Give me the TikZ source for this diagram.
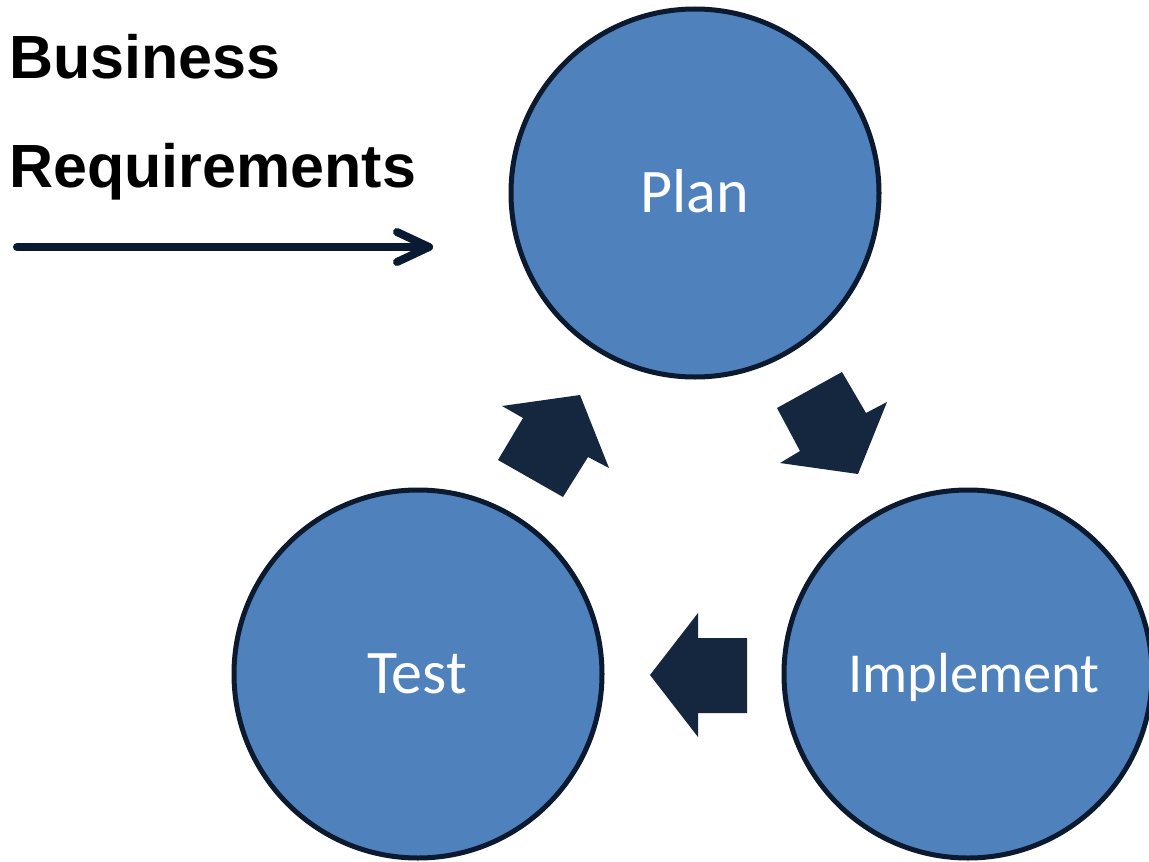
\documentclass[tikz,border=0pt]{standalone}
\usepackage{fontspec}
\setmainfont{Carlito}
\newfontfamily\headfont{Liberation Sans}
\definecolor{cyclefill}{HTML}{4F81BD}
\definecolor{cycleedge}{HTML}{0C1A30}
\definecolor{blockarrow}{HTML}{14273F}
\definecolor{inputline}{HTML}{0A1A33}
\begin{document}
\begin{tikzpicture}[x=1pt,y=-1pt,
  phase/.style={circle, draw=cycleedge, fill=cyclefill, line width=5pt,
    inner sep=0pt, minimum size=368pt},
  phaselabel/.style={text=white, inner sep=0pt, anchor=base,
    font=\fontsize{62}{62}\selectfont},
  headline/.style={inner sep=0pt, anchor=base west,
    font=\headfont\bfseries\fontsize{61}{61}\selectfont},
  turn/.style={fill=blockarrow, draw=none},
  feed/.style={draw=inputline, line width=8pt, line cap=round, line join=round}]
\useasboundingbox (0,0) rectangle (1149,862);
\clip (0,0) rectangle (1149,862);
\fill[white] (0,0) rectangle (1149,862);

% the three phases of the cycle
\node[phase] (plan) at (695,193) {};
\node[phase] (test) at (418,674) {};
\node[phase] (impl) at (968,674) {};
\node[phaselabel] (plantext) at (695,212) {Plan};
\node[phaselabel] (testtext) at (417,693) {Test};
\node[phaselabel, font=\fontsize{56.5}{56.5}\selectfont] (impltext) at (974,692) {Implement};

% block arrows turning the cycle
\fill[turn] (842,372) -- (777,408) -- (800,451) -- (780,463) -- (858,474)
  -- (887,402) -- (866,413) -- cycle;
\fill[turn] (747,638) -- (698,638) -- (698,613) -- (650,675) -- (698,737)
  -- (698,713) -- (747,713) -- cycle;
\fill[turn] (563,497) -- (498,460) -- (523,418) -- (502,406) -- (580,395)
  -- (609,468) -- (588,457) -- cycle;

% incoming requirements
\node[headline] (bus) at (9,78) {Business};
\node[headline] (req) at (9,187) {Requirements};
\coordinate (feedstart) at (17,247);
\coordinate (feedend) at (429,247);
\draw[feed] (feedstart) -- (feedend);
\draw[feed] ([shift={(-32,-15)}]feedend) -- (feedend) -- ([shift={(-32,15)}]feedend);
\end{tikzpicture}
\end{document}
